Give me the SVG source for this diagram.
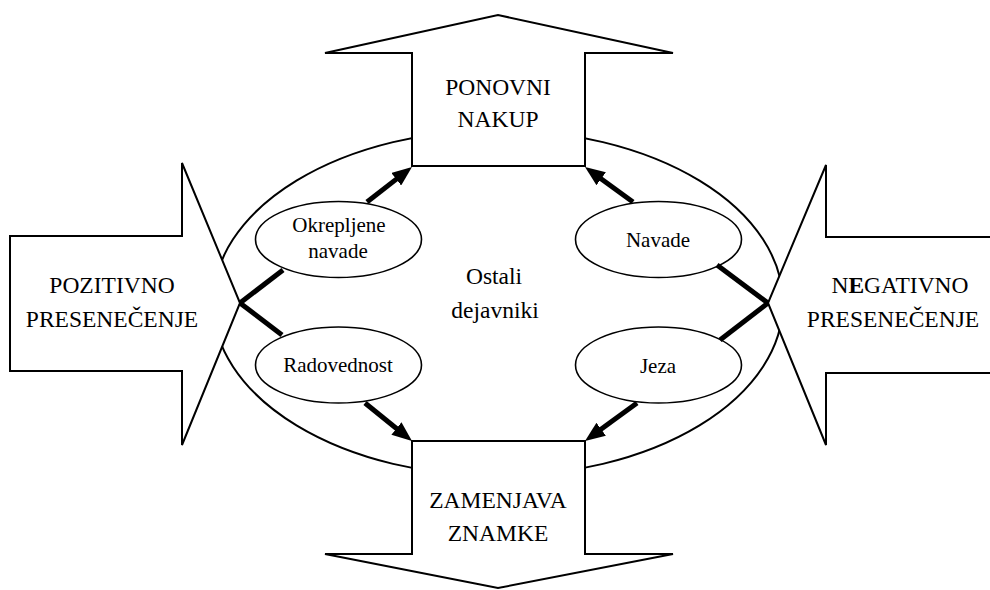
<svg xmlns="http://www.w3.org/2000/svg" width="990" height="590" viewBox="0 0 990 590">
<style>
.out{fill:#fff;stroke:#000;stroke-width:2;stroke-linejoin:miter}
.oval{fill:#fff;stroke:#000;stroke-width:1.6}
.big{fill:none;stroke:#000;stroke-width:2}
text{font-family:'Liberation Serif','Times New Roman','DejaVu Serif',serif;fill:#000;text-anchor:middle}
.t{font-size:23.5px}
.s{font-size:21px}
.thick{stroke:#000;stroke-width:5;fill:none}
</style>
<defs>
<marker id="ah" markerUnits="userSpaceOnUse" viewBox="0 0 20 16" markerWidth="20" markerHeight="16" refX="10" refY="8" orient="auto">
<path d="M0,0 L20,8 L0,16 z" fill="#000"/>
</marker>
</defs>
<rect width="990" height="590" fill="#fff"/>
<g id="factors-area">
<ellipse class="big" cx="498" cy="303" rx="285" ry="173"/>
</g>
<g id="ponovni-nakup">
<path class="out" d="M412,166 L412,53 L325,53 L498,15 L673,53 L585,53 L585,166 Z"/>
<text class="t" x="498" y="95">PONOVNI</text>
<text class="t" x="498" y="127">NAKUP</text>
</g>
<g id="zamenjava-znamke">
<path class="out" d="M412,441 L412,554 L325,554 L498,588 L673,554 L585,554 L585,441 Z"/>
<text class="t" x="498" y="508">ZAMENJAVA</text>
<text class="t" x="498" y="541">ZNAMKE</text>
</g>
<g id="pozitivno-presenecenje">
<path class="out" d="M10,236 L182,236 L182,163 L240,303 L182,445 L182,371 L10,371 Z"/>
<text class="t" x="112" y="293">POZITIVNO</text>
<text class="t" x="112" y="327">PRESENEČENJE</text>
</g>
<g id="negativno-presenecenje">
<path class="out" d="M995,237 L826,237 L826,165 L768,303 L826,445 L826,373 L995,373 Z"/>
<text class="t" x="900" y="293">N<tspan font-weight="bold">E</tspan>GATIVNO</text>
<text class="t" x="893" y="327">PRESENEČENJE</text>
</g>
<g id="ostali-dejavniki">
<text class="t" x="494" y="284">Ostali</text>
<text class="t" x="495" y="318">dejavniki</text>
</g>
<g id="okrepljene-navade">
<ellipse class="oval" cx="338.5" cy="239.5" rx="83" ry="38"/>
<text class="s" x="339" y="232">Okrepljene</text>
<text class="s" x="338" y="258">navade</text>
</g>
<g id="radovednost">
<ellipse class="oval" cx="338.5" cy="365" rx="83" ry="38"/>
<text class="s" x="338" y="372">Radovednost</text>
</g>
<g id="navade">
<ellipse class="oval" cx="658.5" cy="239.5" rx="83" ry="38"/>
<text class="s" x="658" y="247">Navade</text>
</g>
<g id="jeza">
<ellipse class="oval" cx="658.5" cy="365" rx="83" ry="38"/>
<text class="s" x="658" y="373">Jeza</text>
</g>
<g id="connectors">
<line class="thick" x1="240" y1="303" x2="283" y2="270"/>
<line class="thick" x1="240" y1="303" x2="282" y2="335"/>
<line class="thick" x1="768" y1="303" x2="717" y2="265"/>
<line class="thick" x1="768" y1="303" x2="720" y2="340"/>
<line class="thick" x1="367" y1="202" x2="404.1" y2="173.1" marker-end="url(#ah)"/>
<line class="thick" x1="633" y1="202" x2="593.1" y2="172.9" marker-end="url(#ah)"/>
<line class="thick" x1="365" y1="403" x2="404.2" y2="434.7" marker-end="url(#ah)"/>
<line class="thick" x1="637" y1="403" x2="593.1" y2="435.1" marker-end="url(#ah)"/>
</g>
</svg>
